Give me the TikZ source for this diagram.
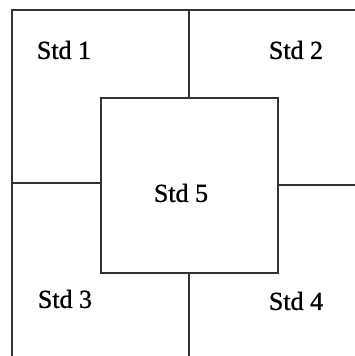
\documentclass[tikz,border=0pt]{standalone}
\usepackage{fontspec}
\setmainfont{Liberation Serif}
\newfontfamily\heavyserif[FakeBold=1]{Liberation Serif}
\begin{document}
\begin{tikzpicture}[x=1pt,y=-1pt,
  wall/.style={line width=1.6pt,draw=black!80},
  lbl/.style={font=\heavyserif\fontsize{26}{26}\selectfont,inner sep=0pt}]
\useasboundingbox (0,0) rectangle (355,356);
% outer walls (open at right and bottom)
\coordinate (ol) at (12,356);
\coordinate (otl) at (12,10);
\coordinate (otr) at (355,10);
\draw[wall] (ol) -- (otl) -- (otr);
% central room
\node[wall,draw,minimum width=177pt,minimum height=175pt,inner sep=0pt,anchor=north west] (s5) at (100,97) {};
\coordinate (topw) at (189,10);
\coordinate (botw) at (189,356);
\coordinate (leftw) at (12,183);
\coordinate (rightw) at (355,185);
\draw[wall] (topw) -- (topw |- s5.north);
\draw[wall] (botw) -- (botw |- s5.south);
\draw[wall] (leftw) -- (leftw -| s5.west);
\draw[wall] (rightw) -- (rightw -| s5.east);
% labels
\node[lbl] (t1) at (64,50) {Std 1};
\node[lbl] (t2) at (296,50) {Std 2};
\node[lbl] (t3) at (65,299) {Std 3};
\node[lbl] (t4) at (296,301) {Std 4};
\node[lbl] (t5) at (181,193) {Std 5};
\end{tikzpicture}
\end{document}
